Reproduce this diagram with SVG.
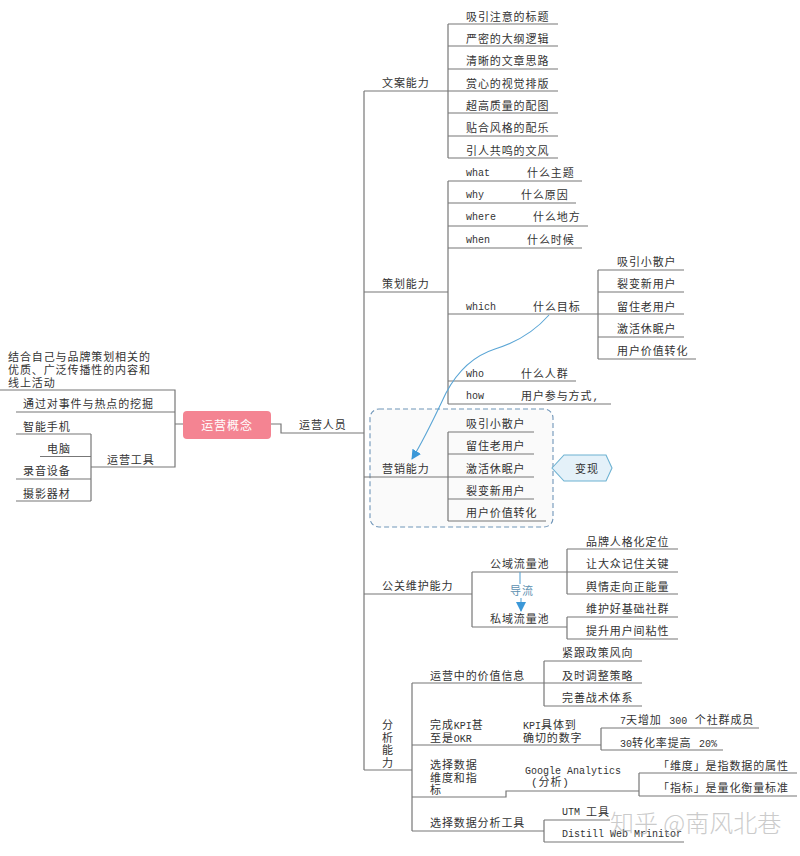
<svg xmlns="http://www.w3.org/2000/svg" width="800" height="856" viewBox="0 0 800 856">
<style>
text{font-family:"Liberation Mono","Noto Sans CJK SC",monospace;font-size:11px;letter-spacing:.9px;fill:#333}
.en{font-size:10px;letter-spacing:0}
#connectors path{fill:none;stroke:#777;stroke-width:1.2}
#connectors path.blue{stroke:#5aa5d5;stroke-width:1.1}
.mid{text-anchor:middle}
</style>
<defs>
<marker id="arr" markerWidth="11" markerHeight="11" refX="9" refY="5" orient="auto" markerUnits="userSpaceOnUse"><path d="M0 0L10 5L0 10Z" fill="#3b98d8"/></marker>
</defs>
<rect width="800" height="856" fill="#fff"/>
<g id="boundary"><rect x="370" y="409" width="183" height="118" rx="9" fill="#fafafa" stroke="#6f95b8" stroke-width="1.1" stroke-dasharray="5 3"/></g>
<g id="connectors">
<path d="M0 390H175V467H91M16 412H175M175 424H183M271 424H281V433H364"/>
<path d="M91 434V501M16 434H91M40 456.500H91M16 479H91M16 501H91"/>
<path d="M364 91V770M364 91H448M448 24V158M448 24H558M448 46H558M448 69H558M448 91H558M448 113H558M448 136H558M448 158H558"/>
<path d="M364 292H448M448 181V404M448 181H582M448 203H576M448 226H588M448 248H582M448 314H598M448 381H576M448 404H611"/>
<path d="M598 270V359M598 270H684M598 292H684M598 314H684M598 337H684M598 359H696"/>
<path d="M364 477H448M448 432V521M448 432H534M448 454H534M448 477H534M448 499H534M448 521H546"/>
<path d="M364 594H472M472 572V627M472 572H567M472 627H567M567 549V594M567 549H678M567 572H678M567 594H678M567 617V639M567 617H678M567 639H678"/>
<path d="M364 770H412M412 683V831M412 683H544M544 661V706M544 661H642M544 683H642M544 706H642"/>
<path d="M412 745H601M601 728V750M601 728H759M601 750H723"/>
<path d="M412 797H506V791H639M639 773V796M639 773H797M639 796H797"/>
<path d="M412 831H544M544 820V842M544 820H610M544 842H684"/>
<path class="blue" d="M549 315C535 331 518 342 495 349C470 357 456 374 446 393C436 414 425 438 412 459" marker-end="url(#arr)"/>
<path class="blue" d="M520 572V584"/>
<path class="blue" d="M521 598V611" marker-end="url(#arr)"/>
</g>
<g id="n-center"><rect x="183" y="411" width="88" height="28" rx="4" fill="#f48492"/><text x="227" y="430" class="mid" style="fill:#fff;font-size:12px">运营概念</text></g>
<g id="n-left" transform="translate(0,1)">
<text x="8" y="360">结合自己与品牌策划相关的</text>
<text x="8" y="373">优质、广泛传播性的内容和</text>
<text x="8" y="386">线上活动</text>
<text x="23" y="407">通过对事件与热点的挖掘</text>
<text x="23" y="430">智能手机</text>
<text x="47" y="452">电脑</text>
<text x="23" y="474">录音设备</text>
<text x="23" y="497">摄影器材</text>
<text x="107" y="463">运营工具</text>
<text x="299" y="428">运营人员</text>
</g>
<g id="n-copy" transform="translate(0,1)">
<text x="382" y="86">文案能力</text>
<text x="466" y="20">吸引注意的标题</text>
<text x="466" y="42">严密的大纲逻辑</text>
<text x="466" y="64">清晰的文章思路</text>
<text x="466" y="87">赏心的视觉排版</text>
<text x="466" y="109">超高质量的配图</text>
<text x="466" y="131">贴合风格的配乐</text>
<text x="466" y="154">引人共鸣的文风</text>
</g>
<g id="n-plan" transform="translate(0,1)">
<text x="382" y="287">策划能力</text>
<text x="466" y="175" class="en">what</text><text x="527" y="176">什么主题</text>
<text x="466" y="197" class="en">why</text><text x="521" y="198">什么原因</text>
<text x="466" y="219" class="en">where</text><text x="533" y="220">什么地方</text>
<text x="466" y="242" class="en">when</text><text x="527" y="243">什么时候</text>
<text x="466" y="309" class="en">which</text><text x="533" y="310">什么目标</text>
<text x="466" y="376" class="en">who</text><text x="521" y="377">什么人群</text>
<text x="466" y="398" class="en">how</text><text x="521" y="399">用户参与方式,</text>
<text x="617" y="265">吸引小散户</text>
<text x="617" y="287">裂变新用户</text>
<text x="617" y="310">留住老用户</text>
<text x="617" y="332">激活休眠户</text>
<text x="617" y="354">用户价值转化</text>
</g>
<g id="n-market" transform="translate(0,1)">
<text x="382" y="472">营销能力</text>
<text x="466" y="427">吸引小散户</text>
<text x="466" y="449">留住老用户</text>
<text x="466" y="472">激活休眠户</text>
<text x="466" y="494">裂变新用户</text>
<text x="466" y="516">用户价值转化</text>
</g>
<g id="n-bianxian"><path d="M552 468L564 455H606L612 468L606 481H564Z" fill="#e4f1f9" stroke="#6db2d2" stroke-width="1.1"/><text x="575" y="473">变现</text></g>
<g id="n-pr" transform="translate(0,1)">
<text x="382" y="589">公关维护能力</text>
<text x="490" y="567">公域流量池</text>
<text x="490" y="622">私域流量池</text>
<text x="510" y="594" style="fill:#5b8fb0">导流</text>
<text x="586" y="545">品牌人格化定位</text>
<text x="586" y="567">让大众记住关键</text>
<text x="586" y="590">舆情走向正能量</text>
<text x="586" y="612">维护好基础社群</text>
<text x="586" y="634">提升用户间粘性</text>
</g>
<g id="n-analysis" transform="translate(0,1)">
<text x="382" y="728">分</text><text x="382" y="741">析</text><text x="382" y="753">能</text><text x="382" y="766">力</text>
<text x="430" y="679">运营中的价值信息</text>
<text x="562" y="656">紧跟政策风向</text>
<text x="562" y="679">及时调整策略</text>
<text x="562" y="701">完善战术体系</text>
<text x="430" y="728">完成<tspan class="en">KPI</tspan>甚</text>
<text x="430" y="741">至是<tspan class="en">OKR</tspan></text>
<text x="523" y="728"><tspan class="en">KPI</tspan>具体到</text>
<text x="523" y="741">确切的数字</text>
<text x="620" y="723"><tspan class="en">7</tspan>天增加 <tspan class="en">300</tspan> 个社群成员</text>
<text x="620" y="746"><tspan class="en">30</tspan>转化率提高 <tspan class="en">20%</tspan></text>
<text x="430" y="768">选择数据</text>
<text x="430" y="781">维度和指</text>
<text x="430" y="793">标</text>
<text x="525" y="773" class="en">Google Analytics</text>
<text x="531" y="785">(分析)</text>
<text x="658" y="769">「维度」是指数据的属性</text>
<text x="658" y="791">「指标」是量化衡量标准</text>
<text x="430" y="826">选择数据分析工具</text>
<text x="562" y="814" class="en">UTM</text><text x="586" y="815">工具</text>
<text x="562" y="836" class="en">Distill Web Mrinitor</text>
</g>
<text x="610" y="832" style="font-family:'Noto Sans CJK SC',sans-serif;font-size:24px;font-weight:300;letter-spacing:0;fill:#aaa;opacity:.6">知乎 @南风北巷</text>
</svg>
